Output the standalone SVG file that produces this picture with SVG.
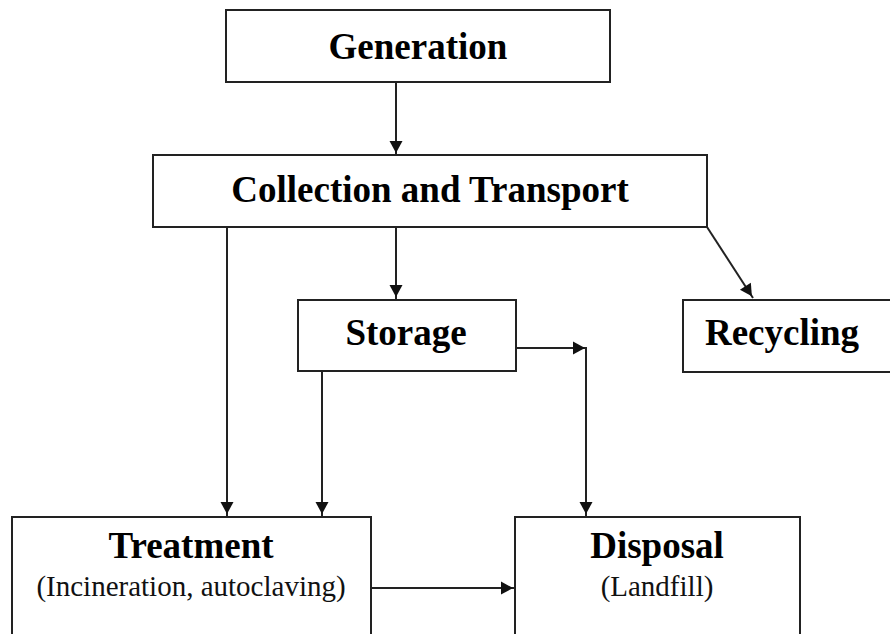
<svg xmlns="http://www.w3.org/2000/svg" width="890" height="634" viewBox="0 0 890 634">
<defs>
<marker id="ah" viewBox="0 0 12 14" refX="14" refY="7" markerWidth="14" markerHeight="14" markerUnits="userSpaceOnUse" orient="auto">
<path d="M0,0.5 L12,7 L0,13.5 Z" fill="#111"/>
</marker>
<style>
.box{fill:#fff;stroke:#222;stroke-width:2}
.t{font-family:"Liberation Serif","Times New Roman",serif;font-weight:bold;font-size:37px;fill:#000;text-anchor:middle}
.s{font-family:"Liberation Serif","Times New Roman",serif;font-size:29px;fill:#111;text-anchor:middle}
.c{fill:none;stroke:#222;stroke-width:2;marker-end:url(#ah)}
</style>
</defs>
<rect width="890" height="634" fill="#fff"/>
<g id="connectors">
<line class="c" x1="396" y1="82" x2="396" y2="155"/>
<line class="c" x1="227" y1="227" x2="227" y2="516"/>
<line class="c" x1="396" y1="227" x2="396" y2="299"/>
<line class="c" x1="707" y1="227" x2="753" y2="298"/>
<line class="c" x1="516" y1="348" x2="587" y2="348"/>
<line class="c" x1="586" y1="347" x2="586" y2="516"/>
<line class="c" x1="322" y1="371" x2="322" y2="516"/>
<line class="c" x1="371" y1="588" x2="515" y2="588"/>
</g>
<g id="generation">
<rect class="box" x="226" y="10" width="384" height="72"/>
<text class="t" x="418" y="59">Generation</text>
</g>
<g id="collection">
<rect class="box" x="153" y="155" width="554" height="72"/>
<text class="t" x="430" y="202">Collection and Transport</text>
</g>
<g id="storage">
<rect class="box" x="298" y="300" width="218" height="71"/>
<text class="t" x="406" y="345">Storage</text>
</g>
<g id="recycling">
<rect class="box" x="683" y="300" width="220" height="72"/>
<text class="t" x="782" y="345">Recycling</text>
</g>
<g id="treatment">
<rect class="box" x="12" y="517" width="359" height="130"/>
<text class="t" x="191" y="558">Treatment</text>
<text class="s" x="191" y="596">(Incineration, autoclaving)</text>
</g>
<g id="disposal">
<rect class="box" x="515" y="517" width="285" height="130"/>
<text class="t" x="657" y="558">Disposal</text>
<text class="s" x="657" y="596">(Landfill)</text>
</g>
</svg>
